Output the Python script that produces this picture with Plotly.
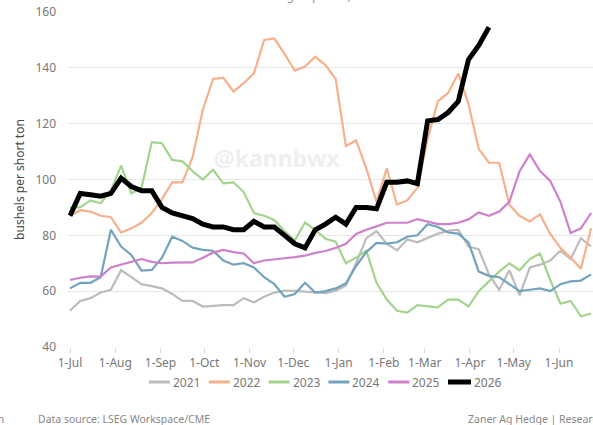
import pandas as pd
import plotly.graph_objects as go

# weekly dates across the marketing year (Jul 1 -> Jun)
dates = pd.date_range("2025-07-01", periods=52, freq="7D")

y2021 = [53, 56.5, 57.5, 59.5, 60.5, 67.5, 65, 62.5, 61.8, 61, 59, 56.5, 56.5, 54.5, 54.7, 55, 55, 57.5, 56, 58,
         59.5, 60.2, 60.1, 59.8, 59.5, 59.3, 60.2, 62, 70, 79, 81.5, 77, 74.6, 78.5, 77.5, 79, 80.6, 81.6, 82, 76,
         75, 66, 60.5, 67.5, 58.5, 68.5, 69.5, 71, 74.5, 71.5, 79, 76]
y2022 = [87, 89, 88.5, 87, 86.5, 81, 82.5, 84.5, 88, 93, 99, 99, 108, 125, 136, 136.5, 131.5, 134.5, 138, 150,
         150.5, 145, 139, 140.5, 144, 141, 136, 112, 114, 104, 92, 104, 91, 92.5, 97, 114.5, 128, 131, 138, 127,
         111, 106, 106, 91, 87, 85, 87.5, 80.5, 75.5, 72, 68, 82.5]
y2023 = [90, 90, 92.5, 91.5, 96, 105, 95, 97, 113.4, 113, 107, 106.5, 103, 100, 103.5, 98.6, 99, 95.5, 88, 87,
         85.5, 81.5, 78.2, 84.6, 82, 78.8, 77.7, 70, 72, 74.5, 63, 57, 53, 52.3, 55, 54.6, 54.2, 57, 57, 54.5,
         60, 63.5, 67, 70, 67.5, 71.5, 73.5, 64, 55.5, 56.5, 51, 52]
y2024 = [61, 63, 63, 65, 82, 76, 73, 67.4, 67.6, 72, 79.5, 78, 75.6, 74.8, 74.5, 71, 69.5, 70, 68.5, 65,
         62.5, 58, 59, 63, 59.5, 60, 61, 62.8, 69, 74, 77.3, 77, 77.5, 79.5, 80, 84, 83, 81, 80.6, 77.5,
         67, 65.5, 65, 62.5, 60, 60.5, 61, 60, 62.5, 63.5, 63.8, 66]
y2025 = [64, 64.8, 65.3, 65.2, 68.5, 69.5, 70.5, 71.5, 70.5, 70, 70.2, 70.2, 70.3, 72, 73.8, 74.8, 74, 73.5, 70, 71,
         71.5, 71.8, 72.2, 72.7, 73.7, 74.4, 75.5, 77, 80.5, 82, 83.2, 84.5, 84.5, 84.5, 85.8, 85, 84, 84, 84.5, 85.7,
         88.2, 87, 88.5, 92, 103, 109, 103, 99.5, 92, 80.8, 82.5, 88]
y2026 = [87, 95, 94.5, 94, 95, 100.5, 97.5, 96, 96, 90, 88, 87, 86, 84, 83, 83, 82, 82, 85, 83,
         83, 80, 77, 75.5, 82, 84, 86.5, 84, 90, 90, 89.5, 99, 99, 99.5, 98.5, 121, 121.5, 124, 128, 143,
         148, 154.5] + [None] * 10

series_names = ["2021", "2022", "2023", "2024", "2025", "2026"]
series_values = [y2021, y2022, y2023, y2024, y2025, y2026]
colors = ["#bcbcbc", "#f6b18c", "#a3d48f", "#72a3bd", "#cf80cc", "#000000"]
widths = [2.2, 2.2, 2.2, 2.2, 2.2, 5]

month_ticks = pd.date_range("2025-07-01", periods=12, freq="MS")
month_labels = ["1-Jul", "1-Aug", "1-Sep", "1-Oct", "1-Nov", "1-Dec",
                "1-Jan", "1-Feb", "1-Mar", "1-Apr", "1-May", "1-Jun"]

FONT = "Noto Sans"
L, T, B, W, H = 68, 12, 78, 593, 425
plot_w, plot_h = W - L, H - T - B


def px_x(p):
    return (p - L) / plot_w


def px_y(p):
    return (H - B - p) / plot_h


fig = go.Figure()
for name, vals, c, w in zip(series_names, series_values, colors, widths):
    fig.add_trace(go.Scatter(x=dates, y=vals, mode="lines", name=name,
                             line=dict(color=c, width=w), connectgaps=False, showlegend=False))

fig.update_layout(
    width=W, height=H,
    margin=dict(l=L, r=0, t=T, b=B, autoexpand=False),
    plot_bgcolor="white", paper_bgcolor="white",
    font=dict(family=FONT, color="#777777", size=12),
    showlegend=False,
    xaxis=dict(range=["2025-06-29 15:00", "2026-06-24 07:00"], tickvals=month_ticks, ticktext=month_labels,
               showgrid=False, ticks="outside", ticklen=5, tickcolor="#d9d9d9", automargin=False,
               showline=False, zeroline=False, tickfont=dict(size=12, color="#777777")),
    yaxis=dict(range=[40, 160], tickvals=[40, 60, 80, 100, 120, 140, 160], automargin=False,
               showgrid=True, gridcolor="#e6e6e6", gridwidth=1, zeroline=False,
               tickfont=dict(size=12, color="#777777"), ticks="", ticklabelstandoff=11,
               title=dict(text="bushels per short ton", font=dict(size=12, color="#4a4a4a"), standoff=8)),
)

# watermark, cropped subtitle and footer
fig.add_annotation(text="<b>@kannbwx</b>", x=px_x(277), y=px_y(158), xref="paper", yref="paper",
                   showarrow=False, font=dict(size=23, color="#efefef", family=FONT))
fig.add_annotation(text="Through April 16, 2026", x=px_x(317), y=px_y(-4), xref="paper", yref="paper",
                   showarrow=False, yanchor="middle", font=dict(size=12, color="#999999"))
fig.add_annotation(text="Data source: LSEG Workspace/CME", x=px_x(36), y=px_y(419), xref="paper", yref="paper",
                   xanchor="left", yanchor="middle", showarrow=False, font=dict(size=10.5, color="#888888"))
fig.add_annotation(text="Zaner Ag Hedge | Research", x=px_x(466), y=px_y(419), xref="paper", yref="paper",
                   xanchor="left", yanchor="middle", showarrow=False, font=dict(size=10.5, color="#888888"))
fig.add_annotation(text="Chart: Karen Braun", x=px_x(6), y=px_y(419), xref="paper", yref="paper",
                   xanchor="right", yanchor="middle", showarrow=False, font=dict(size=10.5, color="#888888"))

# legend row (line sample + label), centred under the plot
leg_y = px_y(382)
leg_start, leg_step, sample_len = 149, 59.8, 21
for i, (name, c, w) in enumerate(zip(series_names, colors, widths)):
    x0 = leg_start + i * leg_step
    fig.add_shape(type="line", xref="paper", yref="paper", x0=px_x(x0), x1=px_x(x0 + sample_len + (2 if w > 3 else 0)),
                  y0=leg_y, y1=leg_y, line=dict(color=c, width=w if w > 3 else 3))
    fig.add_annotation(text=name, x=px_x(x0 + sample_len + (3 if w > 3 else 1)), y=leg_y, xref="paper", yref="paper",
                       xanchor="left", yanchor="middle", showarrow=False,
                       font=dict(size=12, color="#777777"))

fig.write_html("out.html", config={"displayModeBar": False},
               post_script="document.body.style.margin='0';")
